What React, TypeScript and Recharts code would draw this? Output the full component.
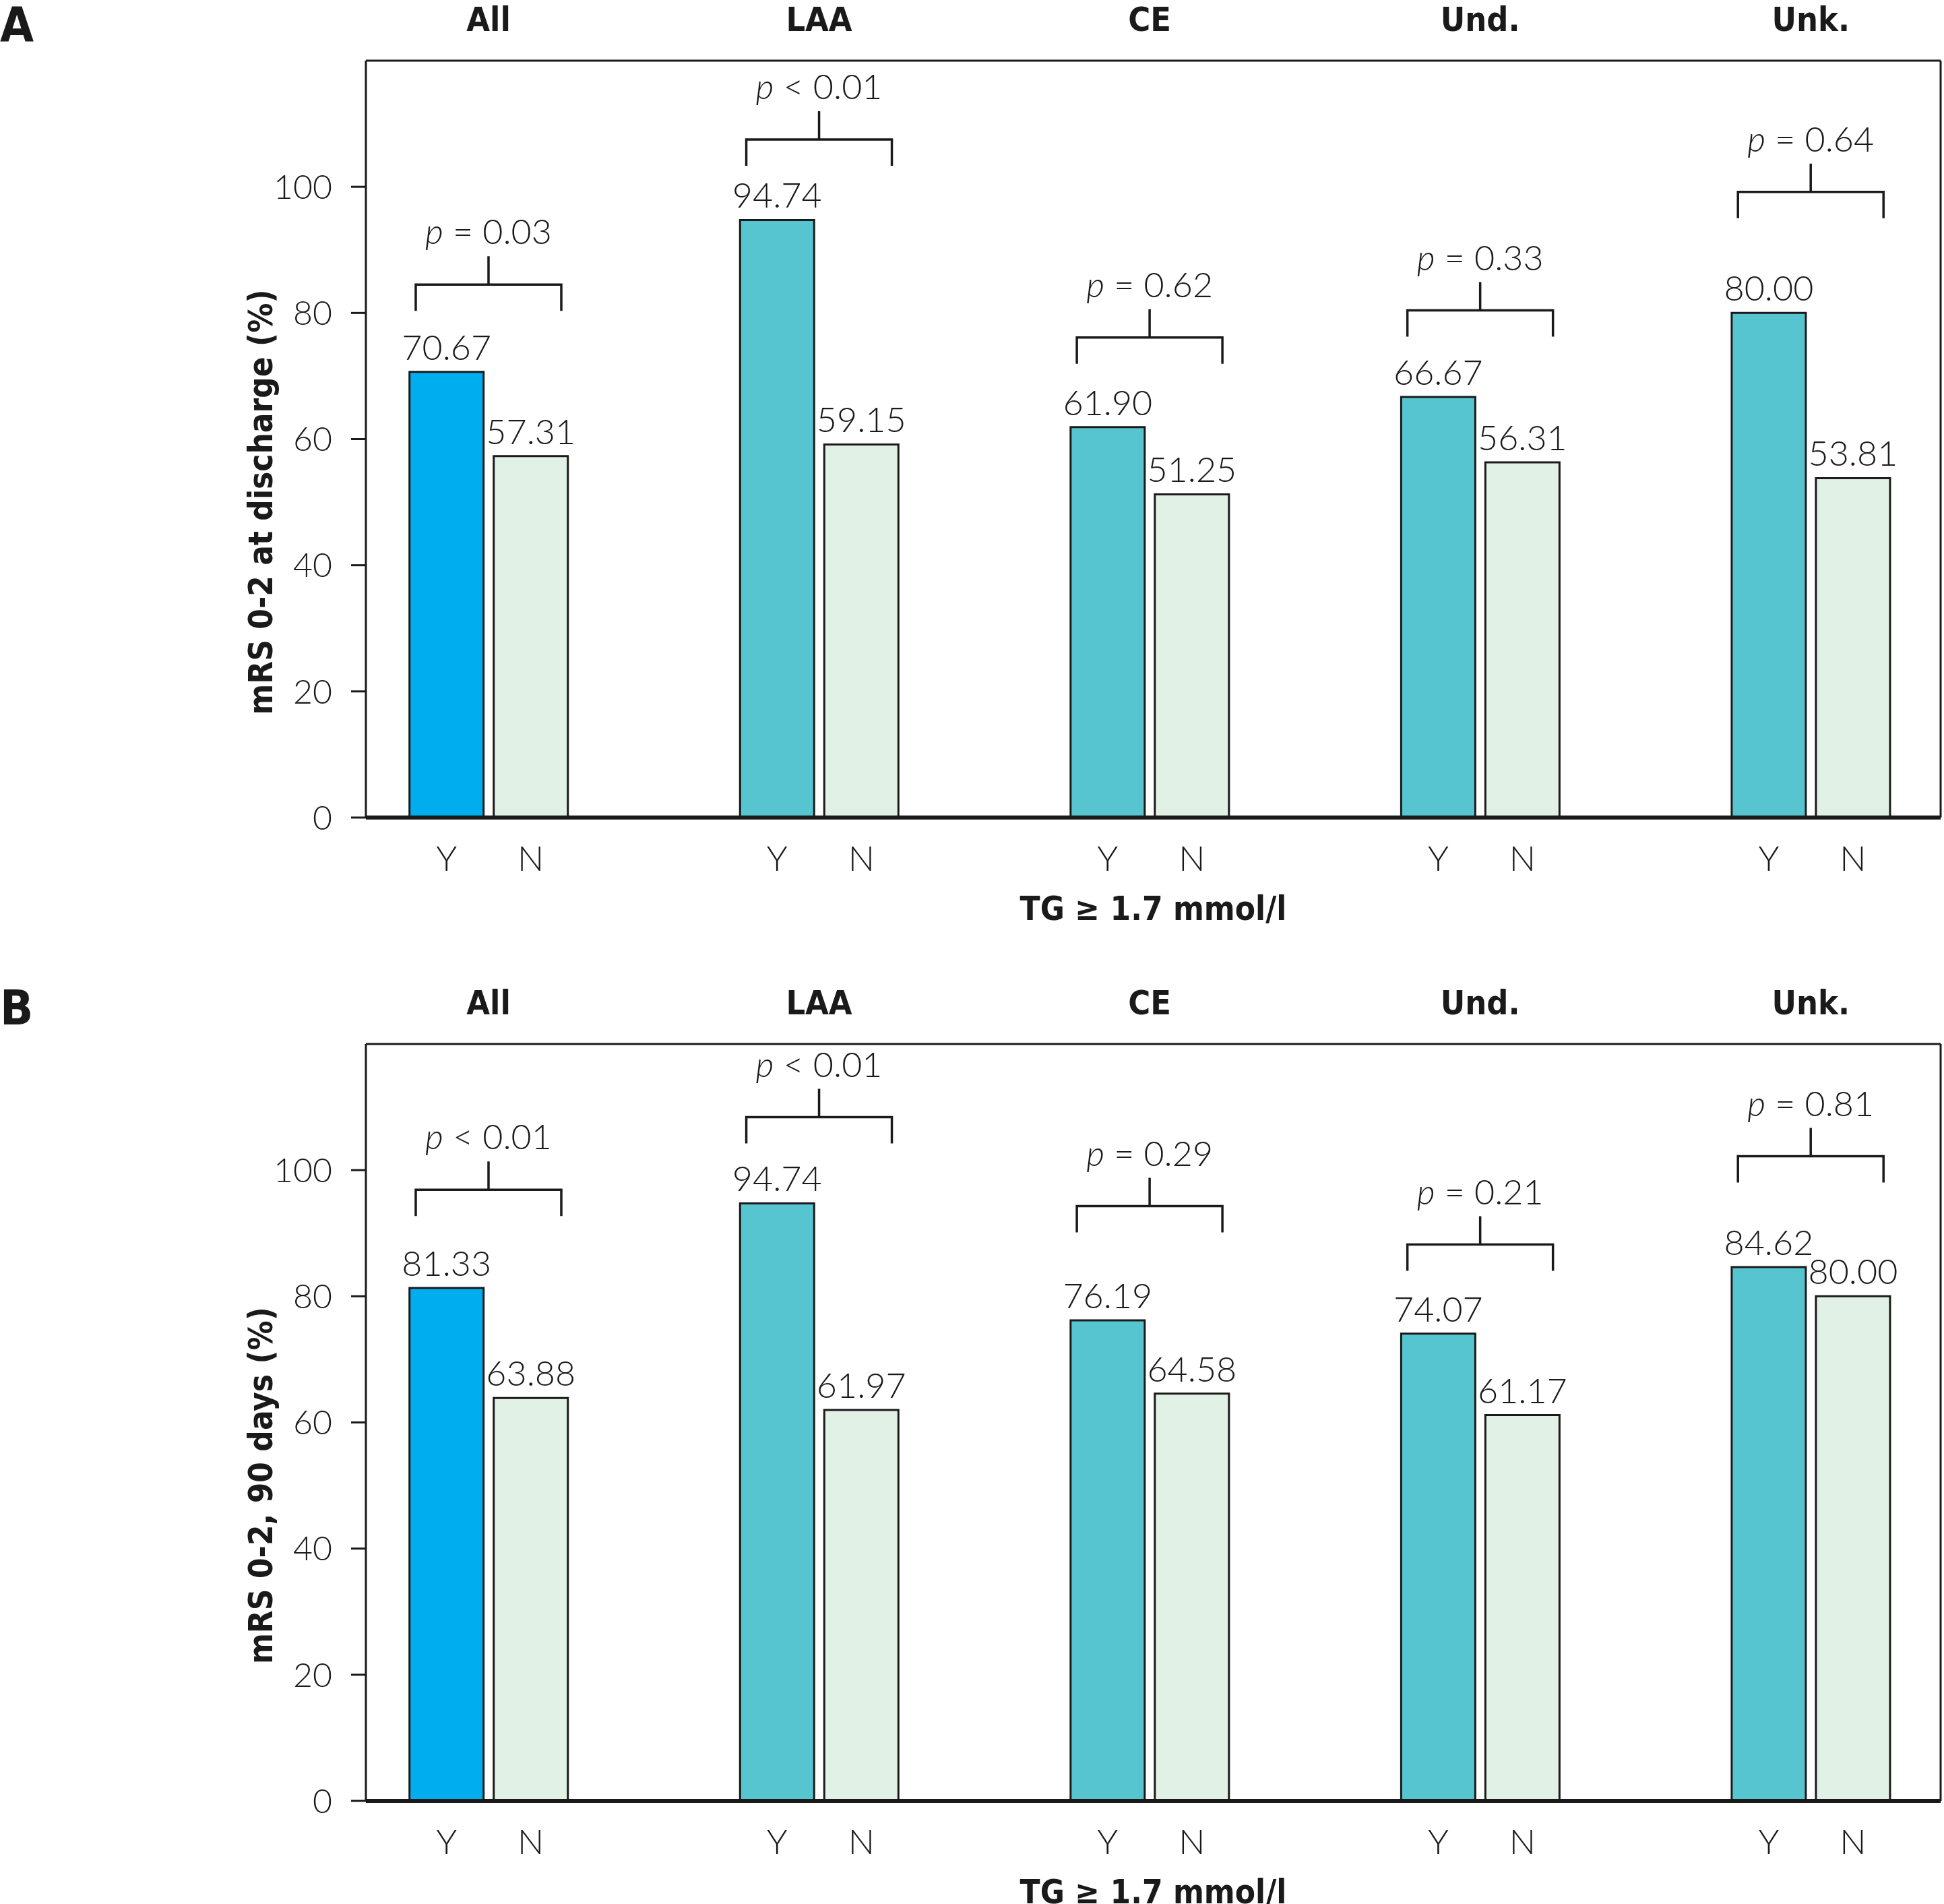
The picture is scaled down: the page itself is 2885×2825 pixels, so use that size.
import { ComposedChart, Bar, XAxis, YAxis, Scatter, LabelList, ReferenceLine, Cell } from 'recharts';

// stroke subtypes (TOAST) shown as groups
const groups = ['All', 'LAA', 'CE', 'Und.', 'Unk.'];
const yTicks = [0, 20, 40, 60, 80, 100];

// panel A: mRS 0-2 at discharge (%)
const dischargeYes = [70.67, 94.74, 61.9, 66.67, 80.0];
const dischargeNo = [57.31, 59.15, 51.25, 56.31, 53.81];
const dischargeOp = ['=', '<', '=', '=', '='];
const dischargeP = ['0.03', '0.01', '0.62', '0.33', '0.64'];
const dischargeBracket = [84.5, 107.5, 76.1, 80.4, 99.2];

// panel B: mRS 0-2 at 90 days (%)
const day90Yes = [81.33, 94.74, 76.19, 74.07, 84.62];
const day90No = [63.88, 61.97, 64.58, 61.17, 80.0];
const day90Op = ['<', '<', '=', '=', '='];
const day90P = ['0.01', '0.01', '0.29', '0.21', '0.81'];
const day90Bracket = [96.9, 108.4, 94.3, 88.2, 102.2];

const Y_MAX = 120;
const X_MIN = -0.371;
const X_MAX = 4.393;

const LIGHT = "Lato, 'Liberation Sans', sans-serif";
const BOLD = "'Liberation Sans Narrow', 'DejaVu Sans Condensed', 'Liberation Sans', sans-serif";
const INK = '#1a1a1a';

function Bracket(props: any) {
  const { cx, cy, payload } = props;
  if (cx == null || cy == null) return null;
  const w = 108;
  return (
    <g>
      <path
        d={`M${cx - w},${cy + 39} V${cy} H${cx + w} V${cy + 39} M${cx},${cy} V${cy - 42}`}
        fill="none"
        stroke={INK}
        strokeWidth={3.5}
      />
      <text x={cx} y={cy - 60} textAnchor="middle" fontSize={52} fontFamily={LIGHT} fontWeight={300} fill={INK}>
        <tspan fontStyle="italic">p</tspan> {payload.op} {payload.p}
      </text>
    </g>
  );
}

function AxisTitle(props: any) {
  const { viewBox, text } = props;
  const cx = viewBox.x + viewBox.width / 2;
  const cy = viewBox.y + viewBox.height * (1 - 50 / Y_MAX);
  return (
    <text
      x={cx}
      y={cy}
      transform={`rotate(-90, ${cx}, ${cy})`}
      textAnchor="middle"
      dominantBaseline="central"
      fontSize={49}
      fontWeight="bold"
      fontFamily={BOLD}
      fill={INK}
    >
      {text}
    </text>
  );
}

interface PanelProps {
  yes: number[];
  no: number[];
  op: string[];
  p: string[];
  bracket: number[];
  yLabel: string;
}

function Panel({ yes, no, op, p, bracket, yLabel }: PanelProps) {
  const data = groups.map((g, i) => ({
    x: i,
    group: g,
    yes: yes[i],
    no: no[i],
    op: op[i],
    p: p[i],
    bracket: bracket[i],
  }));

  const labelStyle = { fontSize: 52, fontFamily: LIGHT, fontWeight: 300, fill: INK };

  return (
    <ComposedChart
      width={2885}
      height={1400}
      data={data}
      barGap={15}
      margin={{ top: 0, right: 5, bottom: 0, left: 233 }}
    >
      <XAxis
        xAxisId="top"
        orientation="top"
        type="number"
        dataKey="x"
        domain={[X_MIN, X_MAX]}
        allowDataOverflow
        ticks={[0, 1, 2, 3, 4]}
        tickFormatter={(i: number) => groups[i]}
        height={90}
        tickLine={false}
        tickSize={0}
        tickMargin={44}
        axisLine={{ stroke: INK, strokeWidth: 3 }}
        tick={{ fontSize: 50, fontWeight: 'bold', fontFamily: BOLD, fill: INK }}
      />
      <XAxis
        xAxisId="bottom"
        type="number"
        dataKey="x"
        domain={[X_MIN, X_MAX]}
        allowDataOverflow
        ticks={[0, 1, 2, 3, 4]}
        height={187}
        tick={false}
        tickLine={false}
        axisLine={{ stroke: INK, strokeWidth: 6 }}
        label={{
          value: 'TG ≥ 1.7 mmol/l',
          position: 'insideBottom',
          offset: 35,
          fontSize: 49,
          fontWeight: 'bold',
          fontFamily: BOLD,
          fill: INK,
        }}
      />
      <YAxis
        domain={[0, Y_MAX]}
        ticks={yTicks}
        width={310}
        tickSize={22}
        tickMargin={28}
        tickLine={{ stroke: INK, strokeWidth: 3 }}
        axisLine={{ stroke: INK, strokeWidth: 3 }}
        tick={{ fontSize: 50, fontFamily: LIGHT, fontWeight: 300, fill: INK }}
        label={<AxisTitle text={yLabel} />}
      />
      <ReferenceLine xAxisId="bottom" x={X_MAX} stroke={INK} strokeWidth={3} />
      <Bar xAxisId="bottom" dataKey="yes" barSize={110} stroke={INK} strokeWidth={3} isAnimationActive={false}>
        {data.map((_, i) => (
          <Cell key={`y-${i}`} fill={i === 0 ? '#00AEEF' : '#56C5D0'} />
        ))}
        <LabelList dataKey="yes" position="top" offset={18} formatter={(v: any) => Number(v).toFixed(2)} {...labelStyle} />
        <LabelList dataKey="yes" position="bottom" offset={42} formatter={() => 'Y'} {...labelStyle} />
      </Bar>
      <Bar xAxisId="bottom" dataKey="no" barSize={110} fill="#E1F1E6" stroke={INK} strokeWidth={3} isAnimationActive={false}>
        <LabelList dataKey="no" position="top" offset={18} formatter={(v: any) => Number(v).toFixed(2)} {...labelStyle} />
        <LabelList dataKey="no" position="bottom" offset={42} formatter={() => 'N'} {...labelStyle} />
      </Bar>
      <Scatter xAxisId="top" dataKey="bracket" shape={Bracket} isAnimationActive={false} />
    </ComposedChart>
  );
}

const letterStyle = {
  position: 'absolute' as const,
  left: 0,
  fontSize: 72,
  lineHeight: 1,
  fontWeight: 'bold' as const,
  fontFamily: BOLD,
  color: INK,
};

export default function App() {
  return (
    <div style={{ position: 'absolute', left: 0, top: 0, width: 2885, height: 2825, overflow: 'hidden', background: '#fff' }}>
      <div style={{ position: 'absolute', left: 0, top: 0 }}>
        <Panel
          yes={dischargeYes}
          no={dischargeNo}
          op={dischargeOp}
          p={dischargeP}
          bracket={dischargeBracket}
          yLabel="mRS 0-2 at discharge (%)"
        />
      </div>
      <div style={{ position: 'absolute', left: 0, top: 1459 }}>
        <Panel
          yes={day90Yes}
          no={day90No}
          op={day90Op}
          p={day90P}
          bracket={day90Bracket}
          yLabel="mRS 0-2, 90 days (%)"
        />
      </div>
      <div style={{ ...letterStyle, top: 0 }}>A</div>
      <div style={{ ...letterStyle, top: 1459 }}>B</div>
    </div>
  );
}
